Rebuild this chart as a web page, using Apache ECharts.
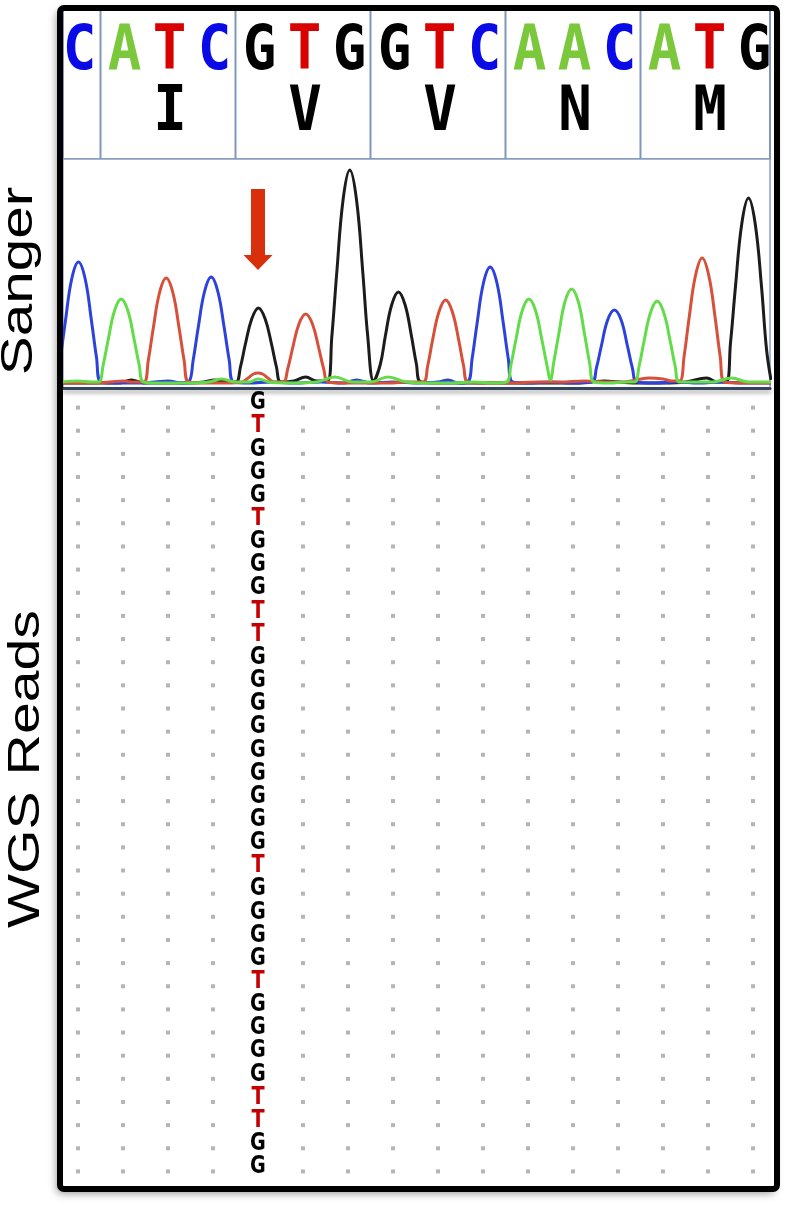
<!DOCTYPE html>
<html><head><meta charset="utf-8">
<script src="https://cdn.jsdelivr.net/npm/echarts@6/dist/echarts.min.js"></script>
<style>html,body{margin:0;padding:0;background:#fff;}#c{width:789px;height:1205px;}</style>
</head><body><div id="c"></div>
<script>
// ---- data ----
const referenceBases = ['C','A','T','C','G','T','G','G','T','C','A','A','C','A','T','G'];
const aminoAcids = ['I','V','V','N','M'];
const aminoPositions = [2, 5, 8, 11, 14];
const codonBoundaries = [0.5, 3.5, 6.5, 9.5, 12.5];

// chromatogram traces: [base position, signal intensity]
const traceC = [[-0.49,2],[-0.39,27],[-0.28,63],[-0.14,105],[0.01,122],[0.16,105],[0.3,63],[0.41,27],[0.51,2],
 [0.8,1],[1.2,1],[1.7,2],[2.0,3],[2.3,1],
 [2.46,2],[2.56,24],[2.67,56],[2.81,92],[2.96,107],[3.11,92],[3.25,56],[3.36,24],[3.46,2],
 [3.8,1],[4.3,2],[4.8,1],[5.4,2],[5.9,1],[6.19,4],[6.5,1],[7.0,2],[7.6,1],[8.0,2],[8.23,4],[8.45,1],
 [8.66,2],[8.76,26],[8.87,61],[9.01,101],[9.16,117],[9.31,101],[9.45,61],[9.56,26],[9.66,2],
 [10.0,1],[10.5,2],[11.0,1],
 [11.42,2],[11.52,16],[11.63,38],[11.77,64],[11.92,74],[12.07,64],[12.21,38],[12.32,16],[12.42,2],
 [12.8,1],[13.3,2],[13.8,1],[14.3,2],[14.8,1],[15.4,1]];
const traceA = [[-0.4,2],[0.0,3],[0.3,2],
 [0.46,2],[0.56,19],[0.67,44],[0.81,73],[0.96,85],[1.11,73],[1.25,44],[1.36,19],[1.46,2],
 [1.8,1],[2.4,1],[2.9,2],[3.19,5],[3.5,2],[3.8,2],[4.0,5],[4.25,2],[4.7,1],[5.3,2],[5.71,7],[6.1,2],[6.5,2],[6.89,7],[7.3,2],[7.8,1],[8.3,1],[8.8,2],[9.2,1],
 [9.52,2],[9.62,19],[9.73,44],[9.87,73],[10.02,85],[10.17,73],[10.31,44],[10.42,19],[10.5,4],
 [10.57,21],[10.68,49],[10.82,82],[10.97,95],[11.12,82],[11.26,49],[11.37,21],[11.47,2],
 [11.8,1],[12.2,2],
 [12.37,2],[12.47,18],[12.58,43],[12.72,71],[12.87,83],[13.02,71],[13.16,43],[13.27,18],[13.37,2],
 [13.7,2],[14.1,2],[14.52,6],[14.9,2],[15.4,2]];
const traceT = [[-0.4,1],[0.2,1],[0.7,2],[1.0,3],[1.2,2],
 [1.46,2],[1.56,23],[1.67,55],[1.81,91],[1.96,106],[2.11,91],[2.25,55],[2.36,23],[2.46,2],
 [2.8,1],[3.3,1],[3.65,2],[3.78,6],[3.9,10],[4.0,11],[4.1,10],[4.22,6],[4.35,2],
 [4.56,2],[4.66,15],[4.77,36],[4.91,60],[5.06,70],[5.21,60],[5.35,36],[5.46,15],[5.56,2],
 [5.9,1],[6.4,1],[6.9,1],[7.33,2],
 [7.67,2],[7.77,18],[7.88,44],[8.02,72],[8.17,84],[8.32,72],[8.46,44],[8.57,18],[8.67,2],
 [9.1,1],[9.6,1],[10.2,2],[10.7,2],[11.27,3],[11.7,2],[12.1,2],[12.4,4],[12.7,6],[13.0,5],[13.2,3],
 [13.37,3],[13.47,28],[13.58,66],[13.72,108],[13.87,126],[14.02,108],[14.16,66],[14.27,28],[14.37,2],
 [14.8,1],[15.4,1]];
const traceG = [[-0.4,1],[0.5,1],[0.9,1],[1.19,4],[1.45,1],[2.0,1],[2.5,1],[2.8,2],[3.04,4],[3.3,2],
 [3.51,2],[3.61,17],[3.72,40],[3.86,65],[4.01,76],[4.16,65],[4.3,40],[4.41,17],[4.51,2],
 [4.8,3],[5.06,7],[5.3,3],
 [5.54,3],[5.64,47],[5.75,111],[5.89,184],[6.04,214],[6.19,184],[6.33,111],[6.44,47],[6.57,3],
 [6.72,20],[6.83,48],[6.97,79],[7.12,92],[7.27,79],[7.41,48],[7.52,20],[7.62,2],
 [8.0,1],[8.5,1],[9.0,1],[9.5,1],[10.0,1],[10.5,1],[11.0,1],[11.4,2],[11.7,3],[12.0,2],[12.5,1],[13.0,1],[13.5,2],[13.97,6],[14.2,2],
 [14.4,2],[14.5,41],[14.61,97],[14.75,160],[14.9,186],[15.05,160],[15.19,97],[15.3,35],[15.4,4]];

const variantBase = 4;        // heterozygous G/T site
const arrowTop = 195, arrowTip = 114;

const readBases = ['G','T','G','G','G','T','G','G','G','T','T','G','G','G','G','G','G','G','G','G','T','G','G','G','G','T','G','G','G','G','T','T','G','G'];
const readColumns = 16;

// ---- styles ----
const seqColors = {C:'#0a0ae6', A:'#7cc83c', T:'#d80000', G:'#000000'};
const readColors = {G:'#000000', T:'#c40000'};
const XMIN = -1/3, XMAX = 15.378;

const dots = [];
readBases.forEach((b, r) => {
  for (let c = 0; c < readColumns; c++) if (c !== variantBase) dots.push([c, r]);
});

const chart = echarts.init(document.getElementById('c'), null, {renderer:'canvas'});

function hiddenX(gi) {
  return {type:'value', gridIndex:gi, min:XMIN, max:XMAX, show:false};
}
function traceSeries(data, color, z) {
  return {type:'line', xAxisIndex:1, yAxisIndex:1, data:data, smooth:0.4, showSymbol:false, symbol:'none',
    lineStyle:{color:color, width:3}, z:z};
}

const option = {
  animation:false,
  backgroundColor:'#ffffff',
  grid:[
    {left:63, top:10, width:707, height:149, show:true, borderColor:'#7f97bb', borderWidth:2, backgroundColor:'#fff'},
    {left:63, top:159, width:707, height:229, show:true, borderColor:'#8aa0c2', borderWidth:1.5, backgroundColor:'#fff'},
    {left:63, top:396, width:707, height:787, show:false}
  ],
  xAxis:[
    hiddenX(0),
    {type:'value', gridIndex:1, min:XMIN, max:XMAX, position:'bottom',
      axisLine:{show:true, onZero:false, lineStyle:{color:'#34445c', width:3, shadowColor:'rgba(0,0,0,0.35)', shadowBlur:4, shadowOffsetY:3}},
      axisTick:{show:false}, axisLabel:{show:false}, splitLine:{show:false}},
    hiddenX(2)
  ],
  yAxis:[
    {type:'value', gridIndex:0, min:0, max:149, show:false},
    {type:'value', gridIndex:1, min:-4, max:225, show:false},
    {type:'category', gridIndex:2, inverse:true, show:false, data:readBases.map((_, i) => String(i + 1))}
  ],
  graphic:[
    {type:'rect', z:-10, shape:{x:60, y:8, width:717, height:1181, r:4},
      style:{fill:'#fff', shadowBlur:8, shadowColor:'rgba(0,0,0,0.45)', shadowOffsetX:-3, shadowOffsetY:4}},
    {type:'rect', z:100, shape:{x:60, y:8, width:717, height:1181, r:4},
      style:{fill:null, stroke:'#000', lineWidth:6}},
    {type:'text', x:20, y:281, rotation:Math.PI/2, scaleX:1.3, z:100,
      style:{text:'Sanger', fill:'#000', font:'45px "Liberation Sans", Arial, sans-serif', align:'center', verticalAlign:'middle'}},
    {type:'text', x:27, y:769, rotation:Math.PI/2, scaleX:1.3, z:100,
      style:{text:'WGS Reads', fill:'#000', font:'44px "Liberation Sans", Arial, sans-serif', align:'center', verticalAlign:'middle'}}
  ],
  series:[
    // codon dividers
    {type:'custom', xAxisIndex:0, yAxisIndex:0, data:codonBoundaries.map(u => [u, 0]),
      renderItem:(p, api) => {
        const a = api.coord([api.value(0), 0]), b = api.coord([api.value(0), 149]);
        return {type:'line', shape:{x1:a[0], y1:a[1], x2:b[0], y2:b[1]}, style:{stroke:'#7f97bb', lineWidth:2}};
      }},
    // reference bases
    {type:'custom', xAxisIndex:0, yAxisIndex:0, data:referenceBases.map((b, i) => [i, 106.5]),
      renderItem:(p, api) => {
        const c = api.coord([api.value(0), api.value(1)]);
        const b = referenceBases[p.dataIndex];
        return {type:'text', x:c[0] + 1.5, y:c[1], scaleX:0.9,
          style:{text:b, fill:seqColors[b], font:'bold 62px "DejaVu Sans Mono"', align:'center', verticalAlign:'middle'}};
      }},
    // amino acids
    {type:'custom', xAxisIndex:0, yAxisIndex:0, data:aminoPositions.map(u => [u, 45]),
      renderItem:(p, api) => {
        const c = api.coord([api.value(0), api.value(1)]);
        return {type:'text', x:c[0] + 2, y:c[1], scaleX:0.9,
          style:{text:aminoAcids[p.dataIndex], fill:'#000', font:'bold 62px "DejaVu Sans Mono"', align:'center', verticalAlign:'middle'}};
      }},
    // traces
    traceSeries(traceG, '#1c1c1c', 3),
    traceSeries(traceC, '#2d42dc', 3),
    traceSeries(traceT, '#d6503a', 3),
    traceSeries(traceA, '#62dc48', 3),
    // arrow
    {type:'custom', xAxisIndex:1, yAxisIndex:1, data:[[variantBase, arrowTop, arrowTip]], z:5,
      renderItem:(p, api) => {
        const t = api.coord([api.value(0), api.value(1)]);
        const k = api.coord([api.value(0), api.value(2)]);
        const cx = t[0], sh = 7, hh = 14.5, hl = 15;
        return {type:'polygon', shape:{points:[[cx-sh, t[1]],[cx+sh, t[1]],[cx+sh, k[1]-hl],[cx+hh, k[1]-hl],[cx, k[1]],[cx-hh, k[1]-hl],[cx-sh, k[1]-hl]]},
          style:{fill:'#d8300c'}};
      }},
    // read dots
    {type:'scatter', xAxisIndex:2, yAxisIndex:2, data:dots, symbol:'rect', symbolSize:4, itemStyle:{color:'#a3a3a3'}, silent:true},
    // read letters at variant site
    {type:'custom', xAxisIndex:2, yAxisIndex:2, data:readBases.map((b, r) => [variantBase, r]),
      renderItem:(p, api) => {
        const c = api.coord([api.value(0), api.value(1)]);
        const b = readBases[p.dataIndex];
        return {type:'text', x:c[0], y:c[1] - 4.5, scaleX:0.8,
          style:{text:b, fill:readColors[b], font:'bold 24px "DejaVu Sans"', align:'center', verticalAlign:'middle'}};
      }}
  ]
};
chart.setOption(option);
</script>
</body></html>
